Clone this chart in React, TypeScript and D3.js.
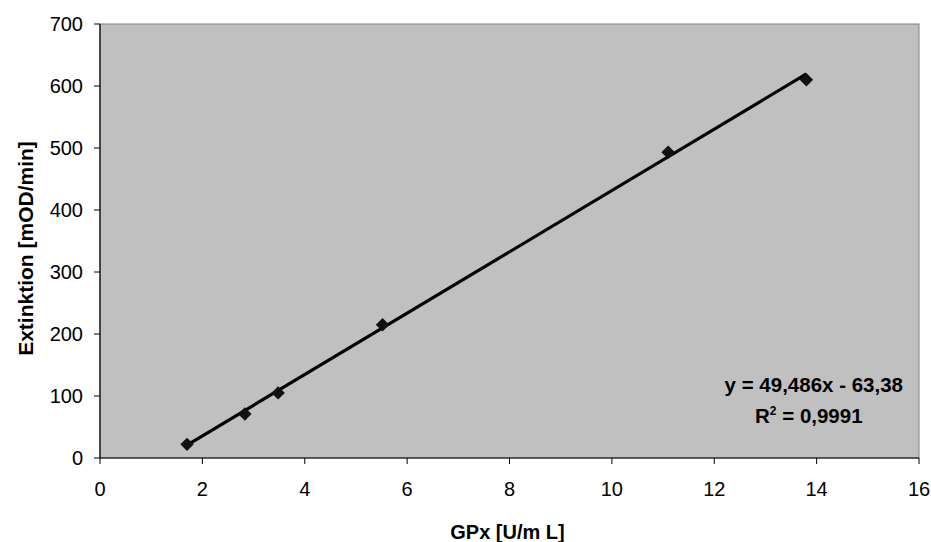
import React from "react";
import * as d3 from "d3";

const xValues = [1.7, 2.83, 3.48, 5.52, 11.1, 13.8];
const yValues = [22, 71, 105, 215, 493, 610];
const xTicks = [0, 2, 4, 6, 8, 10, 12, 14, 16];
const yTicks = [0, 100, 200, 300, 400, 500, 600, 700];
const slope = 49.486;
const intercept = -63.38;
const eqLine1 = "y = 49,486x - 63,38";
const r2Value = "0,9991";

export default function App() {
  const W = 931, H = 542;
  const L = 100, R = 919, T = 24, B = 458;
  const x = d3.scaleLinear().domain([0, 16]).range([L, R]);
  const y = d3.scaleLinear().domain([0, 700]).range([B, T]);
  const x0 = d3.min(xValues)!, x1 = d3.max(xValues)!;
  const font = "'Liberation Sans', Arial, sans-serif";
  const diamond = d3.symbol().type(d3.symbolDiamond2).size(115)();
  return (
    <svg width={W} height={H} style={{ position: "absolute", left: 0, top: 0 }} fontFamily={font}>
      <rect x={0} y={0} width={W} height={H} fill="#fff" />
      <rect x={L} y={T} width={R - L} height={B - T} fill="#C0C0C0" stroke="#808080" strokeWidth={1} />
      <line x1={L} y1={T} x2={L} y2={B} stroke="#000" strokeWidth={1.2} />
      <line x1={L} y1={B} x2={R} y2={B} stroke="#000" strokeWidth={1.2} />
      {yTicks.map((t) => (
        <g key={"y" + t}>
          <line x1={L - 6} x2={L} y1={y(t)} y2={y(t)} stroke="#000" />
          <text x={L - 17} y={y(t) + 7} textAnchor="end" fontSize={20}>{t}</text>
        </g>
      ))}
      {xTicks.map((t) => (
        <g key={"x" + t}>
          <line x1={x(t)} x2={x(t)} y1={B} y2={B + 6} stroke="#000" />
          <text x={x(t)} y={B + 38} textAnchor="middle" fontSize={20}>{t}</text>
        </g>
      ))}
      <line x1={x(x0)} y1={y(slope * x0 + intercept)} x2={x(x1)} y2={y(slope * x1 + intercept)} stroke="#000" strokeWidth={3.2} />
      {xValues.map((v, i) => (
        <path key={"p" + i} d={diamond!} transform={`translate(${x(v)},${y(yValues[i])})`} fill="#111" />
      ))}
      <text x={903} y={392} textAnchor="end" fontSize={20.5} fontWeight="bold">{eqLine1}</text>
      <text x={755} y={423} textAnchor="start" fontSize={20.5} fontWeight="bold">
        R<tspan dy={-8} fontSize={12}>2</tspan><tspan dy={8}> = {r2Value}</tspan>
      </text>
      <text transform={`translate(33,248.5) rotate(-90)`} textAnchor="middle" fontSize={21} fontWeight="bold">Extinktion [mOD/min]</text>
      <text x={507.5} y={539} textAnchor="middle" fontSize={20} fontWeight="bold">GPx [U/m L]</text>
    </svg>
  );
}
